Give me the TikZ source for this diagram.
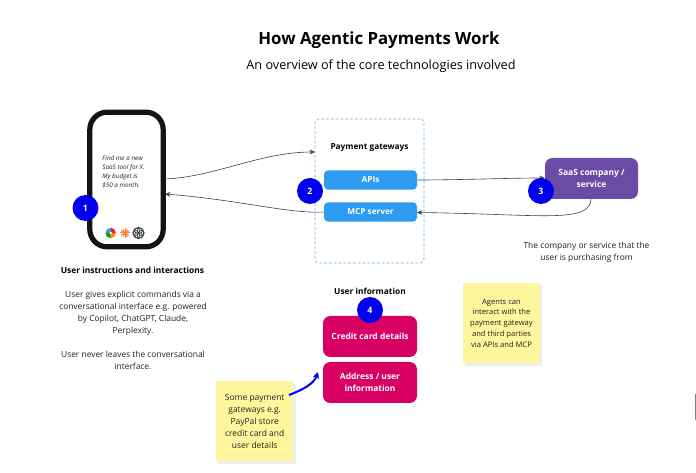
\documentclass[tikz,border=0pt]{standalone}
\usepackage{fontspec}
\setmainfont{Open Sans}
\usetikzlibrary{arrows.meta}
\definecolor{gwblue}{HTML}{2D9BF0}
\definecolor{dashblue}{HTML}{A6D4FA}
\definecolor{saas}{HTML}{6A4BA6}
\definecolor{crimson}{HTML}{D90063}
\definecolor{noteyel}{HTML}{FFF59D}
\definecolor{numblue}{HTML}{0000F0}
\definecolor{tx}{HTML}{222222}
\newcommand{\px}[2]{\fontsize{#1}{#2}\selectfont}
\tikzset{
 x=0.75pt,y=-0.75pt,
 box/.style={rounded corners=3.2pt,fill=gwblue,text=white,font=\px{6.2}{8.7}\bfseries,align=center,inner sep=0pt,minimum width=69.75pt},
 boxb/.style={box,fill=gwblue,minimum height=14.6pt},
 boxc/.style={box,fill=crimson,rounded corners=5.5pt,minimum height=30.75pt,minimum width=70.5pt,font=\px{6.35}{8.7}\bfseries},
 boxs/.style={boxc,fill=saas,minimum width=69.75pt},
 num/.style={circle,fill=numblue,text=white,minimum size=19.5pt,inner sep=0pt,font=\px{6.6}{8}\bfseries},
 note/.style={fill=noteyel,inner sep=0pt,align=center,text=tx,minimum width=58pt,minimum height=60pt},
 shade/.style={fill=black,fill opacity=0.07},
 lbl/.style={text=tx,align=center,inner sep=0pt,font=\px{6.3}{9}},
 head/.style={text=black,align=center,inner sep=0pt,font=\px{6.25}{9}\bfseries},
 link/.style={draw=black!75,line width=0.45pt,-{Stealth[length=4pt,width=3.6pt]}},
}
\begin{document}
\begin{tikzpicture}
\useasboundingbox (0,0) rectangle (696,473);
\fill[white] (0,0) rectangle (696,473);
% titles
\node[inner sep=0pt,text=black,font=\px{12.6}{15}\bfseries] (title) at (379,40) {How Agentic Payments Work};
\node[inner sep=0pt,text=black,font=\px{9.5}{12}] (subtitle) at (381,66) {An overview of the core technologies involved};
% phone
\node[draw=black!92,line width=3.9pt,rounded corners=13pt,minimum width=55pt,minimum height=101pt,inner sep=0pt] (phone) at (126.5,179.5) {};
\node[inner sep=0pt,align=left,text=tx,font=\px{4.75}{6.8}\itshape] (prompt) at (123.5,171.5) {Find me a new\\SaaS tool for X.\\My budget is\\\$50 a month.};
% icons
\coordinate (ico1) at (110.7,233);
\fill[gwblue] (ico1) -- ++(180:5.2) arc[start angle=180,delta angle=90,radius=5.2] -- cycle;
\fill[crimson!80!orange] (ico1) -- ++(270:5.2) arc[start angle=270,delta angle=90,radius=5.2] -- cycle;
\fill[orange!90!yellow] (ico1) -- ++(0:5.2) arc[start angle=0,delta angle=90,radius=5.2] -- cycle;
\fill[green!65!black] (ico1) -- ++(90:5.2) arc[start angle=90,delta angle=90,radius=5.2] -- cycle;
\fill[white] (ico1) circle[radius=1.4];
\coordinate (ico2) at (125,233);
\foreach \a in {0,30,...,330} \draw[orange!70!red!80,line width=0.75pt,line cap=round] (ico2) -- ++(\a:4.3);
\coordinate (ico3) at (138.5,233);
\draw[black!75,line width=0.7pt] (ico3) circle[radius=5.6];
\foreach \a in {0,60,...,300} \draw[black!75,line width=0.5pt] (ico3) ++(\a:2.7) circle[radius=2.5];
% payment gateway
\node[draw=dashblue,line width=1.1pt,dash pattern=on 2pt off 1.6pt,rounded corners=3pt,minimum width=81.75pt,minimum height=108pt,inner sep=0pt] (gateway) at (369.5,191) {};
\node[head,font=\px{6.2}{9}\bfseries] (gwhead) at (369.5,147.5) {Payment gateways};
\node[boxb] (apis) at (370.5,180) {APIs};
\node[boxb] (mcp) at (370.5,212) {MCP server};
% saas
\node[boxs] (saasbox) at (591.5,178.5) {SaaS company /\\service};
\node[lbl] (saastxt) at (586.5,252) {The company or service that the\\user is purchasing from};
% user info
\node[head] (uihead) at (370,291) {User information};
\node[boxc] (card) at (370,336.5) {Credit card details};
\node[boxc] (addr) at (370,382.5) {Address / user\\information};
% notes
\fill[shade] (465,286) rectangle (542,366);
\node[note,font=\px{5.7}{8.1}] (note1) at (501.5,323) {Agents can\\interact with the\\payment gateway\\and third parties\\via APIs and MCP};
\fill[shade] (218,384) rectangle (296,464);
\node[note,font=\px{6.35}{9}] (note2) at (254.7,421) {Some payment\\gateways e.g.\\PayPal store\\credit card and\\user details};
% left text
\node[head,font=\px{6.3}{9}\bfseries] (lefthead) at (132.5,270) {User instructions and interactions};
\node[lbl] (lefttxt) at (133,330) {User gives explicit commands via a\\conversational interface e.g. powered\\by Copilot, ChatGPT, Claude,\\Perplexity.\\[9pt]User never leaves the conversational\\interface.};
% connectors
\coordinate (p1) at (165,179);
\coordinate (p2) at (165,194);
\coordinate (g1) at (315,152);
\draw[link] (p1) .. controls (215,177) and (260,152) .. (g1);
\draw[link] (mcp.west) .. controls (290,214) and (240,200) .. (p2);
\draw[link] (apis.east) .. controls (460,180) and (510,178) .. (saasbox.west |- 0,178);
\coordinate (s1) at (591,199);
\coordinate (m1) at (417,212.5);
\draw[link] (s1) .. controls (590,224) and (540,214) .. (m1);
% circles
\node[num] (n1) at (85.5,208) {1};
\node[num] (n2) at (310,191) {2};
\node[num] (n3) at (541,191) {3};
\node[num] (n4) at (370,310) {4};
% blue arrow
\coordinate (b1) at (289,395);
\coordinate (b2) at (318,372);
\draw[numblue,line width=1.5pt,-{Stealth[length=5pt,width=5pt]}] (b1) .. controls (302,390) and (314,384) .. (b2);
% edge mark
\coordinate (e1) at (695,394);
\coordinate (e2) at (695,420);
\draw[black!50,line width=0.75pt] (e1) -- (e2);
\end{tikzpicture}
\end{document}
